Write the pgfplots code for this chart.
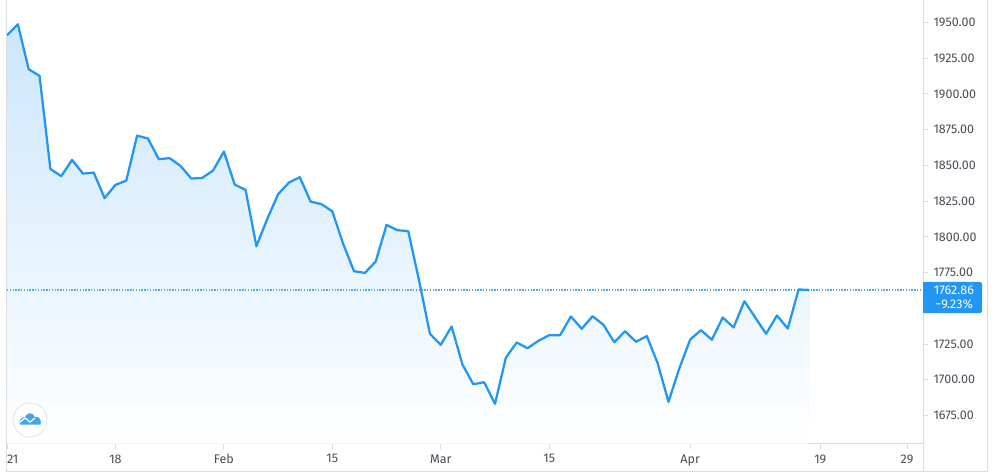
\documentclass[border=0pt]{standalone}
\usepackage{pgfplots}
\pgfplotsset{compat=1.18}
\usepackage{pgfplotstable}
\usepackage{fontspec}
\setmainfont{Fira Sans}
\definecolor{lineblue}{HTML}{2196F3}
\definecolor{gridgray}{HTML}{DDDDDD}
\definecolor{labelgray}{HTML}{4A4D57}
\definecolor{filltop}{HTML}{CBE6FC}

% index is one trading day, value is the price
\pgfplotstableread{
i price
0 1941.1
1 1948.8
2 1917.3
3 1912.7
4 1847.6
5 1842.5
6 1853.9
7 1844.3
8 1845.0
9 1827.1
10 1836.4
11 1839.4
12 1870.9
13 1868.8
14 1854.4
15 1855.1
16 1849.7
17 1840.8
18 1841.3
19 1846.4
20 1859.7
21 1836.6
22 1832.9
23 1793.5
24 1812.6
25 1829.9
26 1838.0
27 1841.8
28 1824.7
29 1822.9
30 1817.9
31 1795.1
32 1776.0
33 1774.8
34 1782.8
35 1808.4
36 1804.7
37 1804.0
38 1769.5
39 1732.2
40 1724.5
41 1737.3
42 1710.7
43 1696.9
44 1698.3
45 1683.2
46 1715.4
47 1726.1
48 1722.1
49 1727.3
50 1731.2
51 1731.2
52 1744.3
53 1735.7
54 1744.5
55 1738.5
56 1726.3
57 1734.0
58 1726.6
59 1730.6
60 1711.6
61 1684.6
62 1708.1
63 1728.2
64 1734.7
65 1728.0
66 1743.6
67 1736.6
68 1755.0
69 1743.6
70 1732.2
71 1745.0
72 1735.9
73 1763.2
74 1762.86
}\prices

\begin{document}
\begin{tikzpicture}[x=0.75pt,y=0.75pt]
\path[use as bounding box] (0,0) rectangle (995,475);
\begin{axis}[
    at={(5.25pt,23.6pt)}, anchor=south west,
    scale only axis,
    width=687pt, height=332.25pt,
    xmin=0, xmax=84.47,
    ymin=1655.4, ymax=1965.4,
    axis x line*=bottom,
    axis y line*=right,
    axis line style={gridgray, line width=0.75pt},
    xtick={0,10,20,30,40,50,63,75,83},
    xticklabels={\makebox[0pt][l]{21},18,Feb,15,Mar,15,Apr,19,29},
    ytick={1675,1700,1725,1775,1800,1825,1850,1875,1900,1925,1950},
    /pgf/number format/fixed,
    /pgf/number format/fixed zerofill,
    /pgf/number format/precision=2,
    /pgf/number format/1000 sep={},
    /pgf/number format/assume math mode=true,
    tick style={gridgray, line width=0.75pt},
    major tick length=3.75pt,
    tick align=outside,
    ticklabel style={font=\fontsize{9.4}{11}\selectfont, text=labelgray},
    xticklabel style={yshift=-1pt},
    yticklabel style={xshift=0.6pt},
    clip=true,
]
\addplot[draw=none, top color=filltop, bottom color=white, shading angle=0] table[x=i, y=price] {\prices} \closedcycle;
\addplot[draw=lineblue!80, dash pattern=on 1pt off 1.1pt, line width=0.9pt] coordinates {(0,1762.86) (84.47,1762.86)};
\addplot[lineblue, line width=1.7pt, line join=round] table[x=i, y=price] {\prices};
\end{axis}
% frame, in pixels from the top left
\begin{scope}[y=-0.75pt, yshift=356.25pt]
\draw[gridgray, line width=0.75pt] (6.7,0) -- (6.7,471) -- (987,471) -- (987,0);
\draw[gridgray, line width=0.75pt] (923,0) -- (923,471);
\fill[lineblue, rounded corners=1.5pt] (923,282) rectangle (982,313);
\fill[lineblue] (923,282) rectangle (930,313);
\node[text=white, font=\fontsize{9.4}{11}\selectfont, anchor=center] at (954,290.5) {1762.86};
\node[text=white, font=\fontsize{9.4}{11}\selectfont, anchor=center] at (954,304.5) {−9.23\%};
% logo badge
\draw[gridgray!70, fill=white, line width=0.75pt] (30,420) circle (17);
\fill[lineblue!85] (20,424.5) .. controls (18,419) and (23,417) .. (25,417) .. controls (27,412) and (33,412) .. (35,417) .. controls (39,416) and (42,420) .. (40.5,424.5) -- cycle;
\draw[white, line width=0.9pt] (20,422) -- (25,418) -- (30,422) -- (35,418);
\end{scope}
\end{tikzpicture}
\end{document}
